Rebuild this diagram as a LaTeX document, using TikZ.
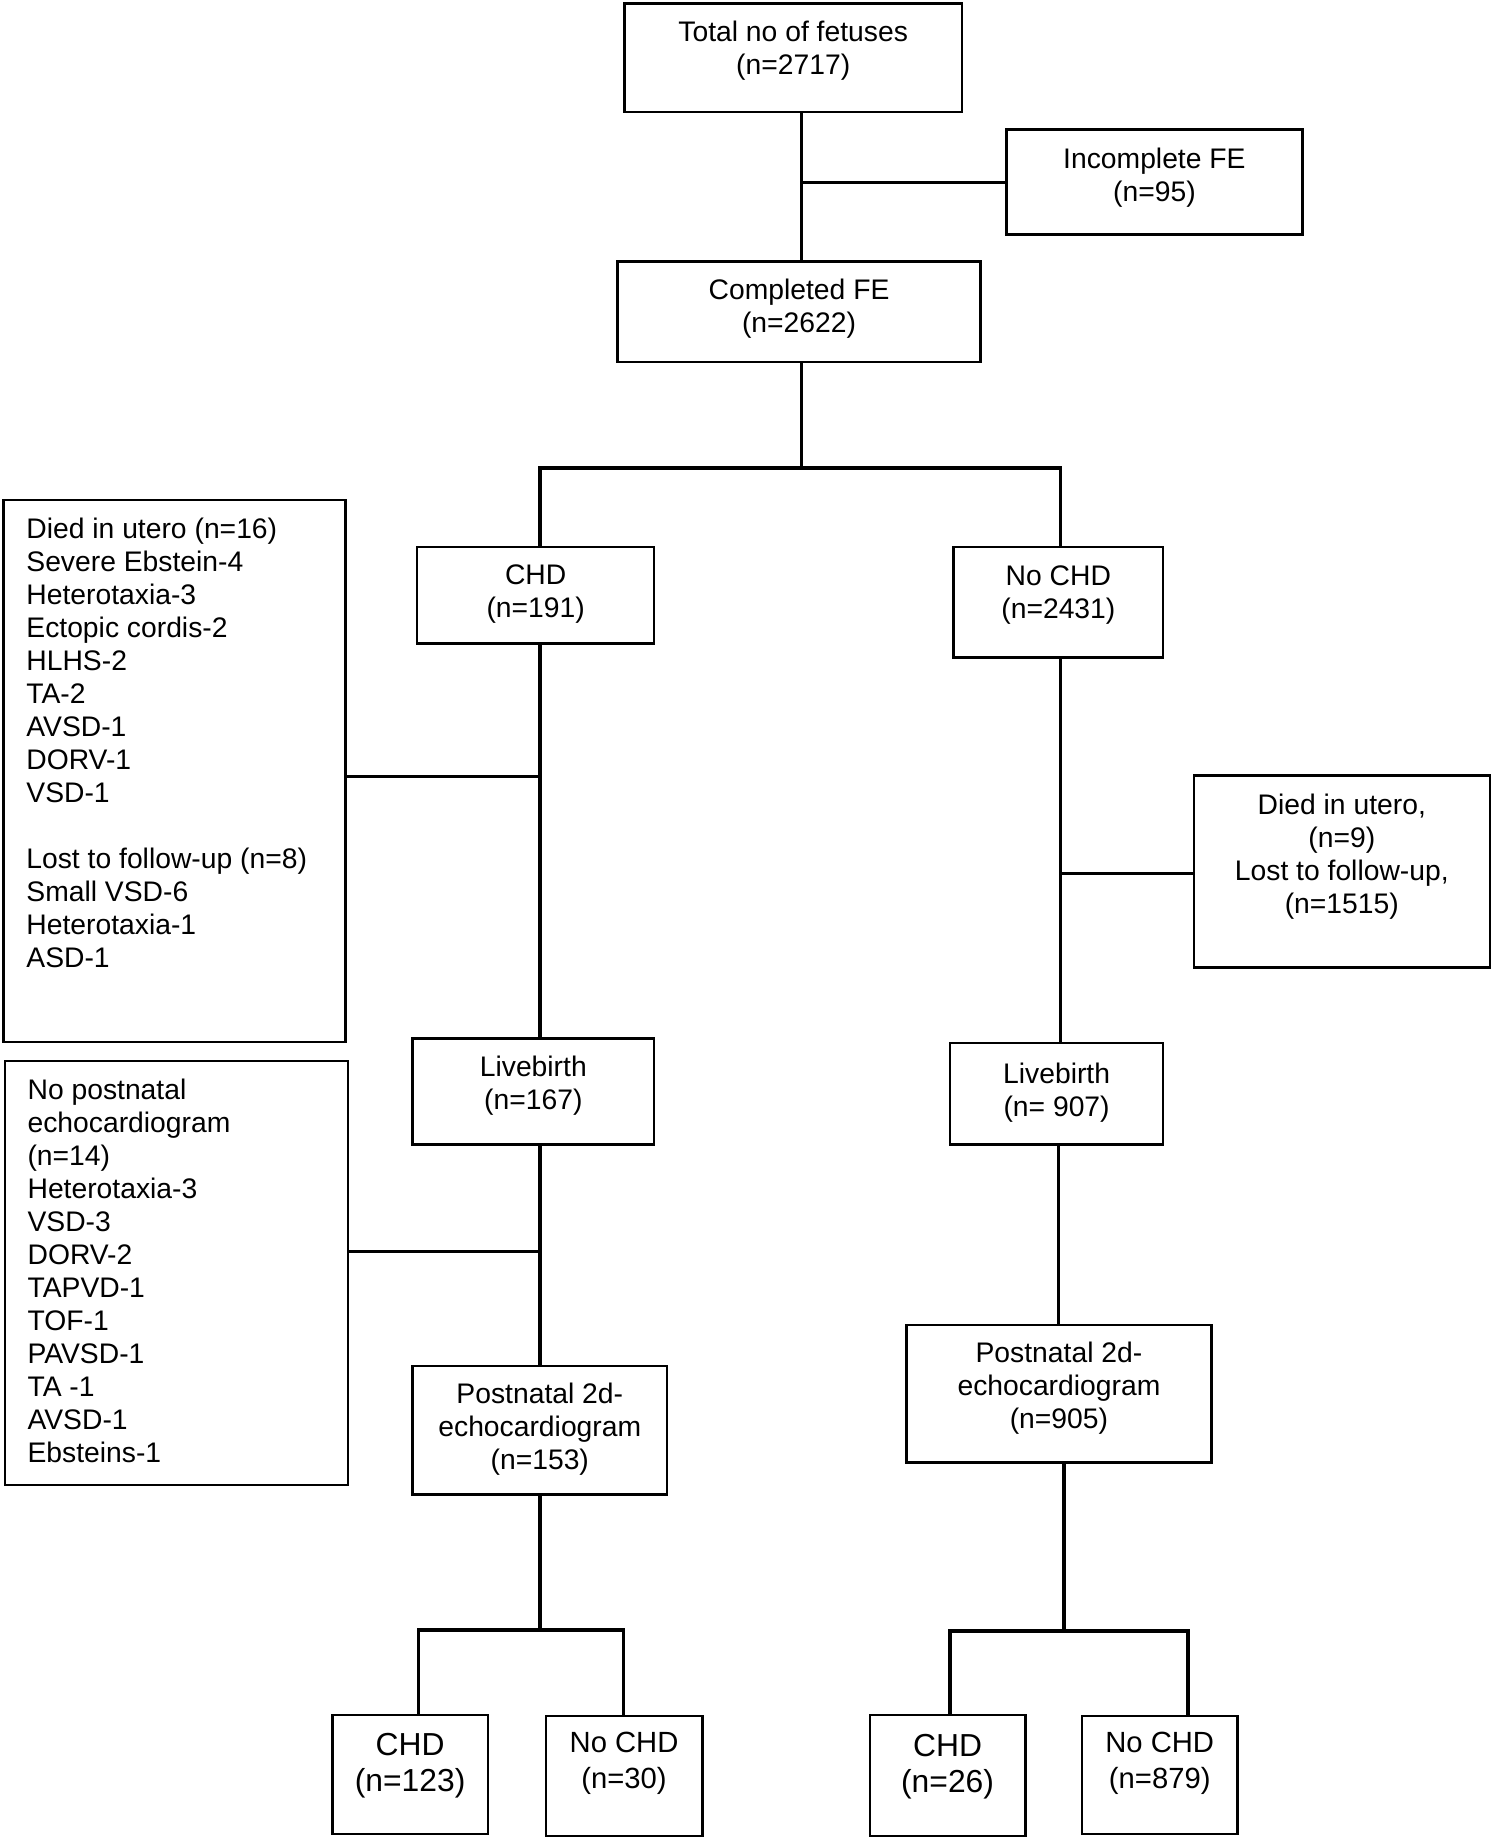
\documentclass[tikz,border=0pt]{standalone}
\usepackage{fontspec}
\setmainfont{Liberation Sans}
\usetikzlibrary{fit,calc}
\tikzset{
  box/.style={draw=black, line width=1pt, inner sep=0pt, fill=white},
  txt/.style={inner sep=0pt, align=center, font=\fontsize{12}{14}\selectfont},
  bigtxt/.style={inner sep=0pt, align=center, font=\fontsize{13.5}{15.5}\selectfont},
  midtxt/.style={inner sep=0pt, align=center, font=\fontsize{12.4}{15.5}\selectfont},
  listtxt/.style={inner sep=0pt, align=left, anchor=north west, font=\fontsize{12}{14}\selectfont},
  conn/.style={draw=black, line width=1.5pt}
}
\newcommand{\cbox}[8]{%
  \node[box, fit={(#3,#4) (#5,#6)}] (#2) {};
  \node[#1] (#2t) at ({(#3+#5)/2},#7) {#8};}
\begin{document}
\begin{tikzpicture}[x=0.5pt,y=-0.5pt]
\useasboundingbox[fill=white] (0,0) rectangle (1268,1568);

% main boxes
\cbox{txt}{tot}{530}{3}{816}{95}{43}{Total no of fetuses\\(n=2717)}
\cbox{txt}{inc}{854}{110}{1105}{199}{151}{Incomplete FE\\(n=95)}
\cbox{txt}{comp}{524}{222}{832}{307}{262}{Completed FE\\(n=2622)}
\cbox{txt}{chd}{354}{464}{555}{546}{504}{CHD\\(n=191)}
\cbox{txt}{nochd}{809}{464}{987}{558}{505}{No CHD\\(n=2431)}
\cbox{txt}{live1}{350}{881}{555}{971}{921}{Livebirth\\(n=167)}
\cbox{txt}{live2}{806}{885}{987}{971}{927}{Livebirth\\(n= 907)}
\cbox{txt}{post1}{350}{1159}{566}{1268}{1213}{Postnatal 2d-\\echocardiogram\\(n=153)}
\cbox{txt}{post2}{769}{1124}{1028}{1241}{1178}{Postnatal 2d-\\echocardiogram\\(n=905)}
\cbox{txt}{died2}{1013}{658}{1264}{821}{727}{Died in utero,\\(n=9)\\Lost to follow-up,\\(n=1515)}

% bottom boxes
\cbox{bigtxt}{c1}{282}{1455}{414}{1556}{1498}{CHD\\(n=123)}
\cbox{midtxt}{n1}{463}{1456}{596}{1558}{1496}{No CHD\\(n=30)}
\cbox{bigtxt}{c2}{738}{1455}{870}{1558}{1499}{CHD\\(n=26)}
\cbox{midtxt}{n2}{918}{1456}{1050}{1556}{1496}{No CHD\\(n=879)}

% left list boxes
\node[box, fit={(3,424) (293,884)}] (died1) {};
\node[listtxt] (died1t) at (22,439) {Died in utero (n=16)\\Severe Ebstein-4\\Heterotaxia-3\\Ectopic cordis-2\\HLHS-2\\TA-2\\AVSD-1\\DORV-1\\VSD-1\\[14pt]Lost to follow-up (n=8)\\Small VSD-6\\Heterotaxia-1\\ASD-1};
\node[box, fit={(4,900) (295,1260)}] (nopost) {};
\node[listtxt] (nopostt) at (23,915) {No postnatal\\echocardiogram\\(n=14)\\Heterotaxia-3\\VSD-3\\DORV-2\\TAPVD-1\\TOF-1\\PAVSD-1\\TA -1\\AVSD-1\\Ebsteins-1};

% connectors
\coordinate (j1) at (680,155);
\draw[conn] (j1 |- tot.south) -- (j1 |- comp.north);
\draw[conn] (j1) -- (j1 -| inc.west);

\coordinate (j2) at (680,397);
\coordinate (jl) at (458,397);
\coordinate (jr) at (900,397);
\draw[conn] (j2 |- comp.south) -- (j2);
\draw[conn] (jl |- chd.north) -- (jl) -- (jr) -- (jr |- nochd.north);

\coordinate (j3) at (458,659);
\draw[conn] (j3 |- chd.south) -- (j3 |- live1.north);
\draw[conn] (j3) -- (j3 -| died1.east);

\coordinate (j4) at (458,1062);
\draw[conn] (j4 |- live1.south) -- (j4 |- post1.north);
\draw[conn] (j4) -- (j4 -| nopost.east);

\coordinate (j5) at (458,1383);
\coordinate (j5l) at (355,1383);
\coordinate (j5r) at (529,1383);
\draw[conn] (j5 |- post1.south) -- (j5);
\draw[conn] (j5l |- c1.north) -- (j5l) -- (j5r) -- (j5r |- n1.north);

\coordinate (j6) at (900,741);
\draw[conn] (j6 |- nochd.south) -- (j6 |- live2.north);
\draw[conn] (j6) -- (j6 -| died2.west);

\coordinate (j7) at (898,1050);
\draw[conn] (j7 |- live2.south) -- (j7 |- post2.north);

\coordinate (j8) at (903,1384);
\coordinate (j8l) at (806,1384);
\coordinate (j8r) at (1008,1384);
\draw[conn] (j8 |- post2.south) -- (j8);
\draw[conn] (j8l |- c2.north) -- (j8l) -- (j8r) -- (j8r |- n2.north);
\end{tikzpicture}
\end{document}
